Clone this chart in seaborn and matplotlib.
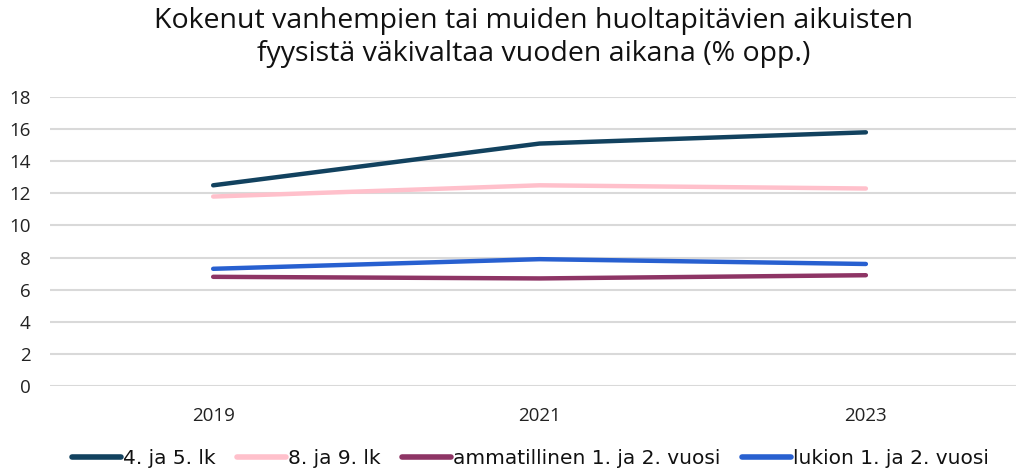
import matplotlib
matplotlib.use("Agg")
import matplotlib.pyplot as plt
import seaborn as sns
import pandas as pd
import numpy as np
from matplotlib.lines import Line2D

years = ["2019", "2021", "2023"]
series_names = ["4. ja 5. lk", "8. ja 9. lk", "ammatillinen 1. ja 2. vuosi", "lukion 1. ja 2. vuosi"]
values_45 = [12.5, 15.1, 15.8]
values_89 = [11.8, 12.5, 12.3]
values_amm = [6.8, 6.7, 6.9]
values_luk = [7.3, 7.9, 7.6]
colors = ["#12425F", "#FFC0CB", "#8E3565", "#2860D0"]
title = "Kokenut vanhempien tai muiden huoltapitävien aikuisten\nfyysistä väkivaltaa vuoden aikana (% opp.)"

sns.set_theme(style="white")
plt.rcParams['font.family'] = ['Open Sans', 'DejaVu Sans']

rows = []
for name, vals in zip(series_names, [values_45, values_89, values_amm, values_luk]):
    for i, (y, v) in enumerate(zip(years, vals)):
        rows.append({"idx": i, "year": y, "value": v, "series": name})
df = pd.DataFrame(rows)

fig = plt.figure(figsize=(10.16, 4.70), dpi=100)
ax = fig.add_axes([50/1016, 84/470, 1 - 50/1016, 289/470])
sns.lineplot(data=df, x="idx", y="value", hue="series", hue_order=series_names,
             palette=colors, linewidth=3.2, ax=ax, legend=False, solid_capstyle="round")

ax.set_xlim(-0.5, 2.46)
ax.set_ylim(0, 18)
ax.set_yticks(np.arange(0, 19, 2))
ax.set_xticks(range(len(years)))
ax.set_xticklabels(years)
ax.tick_params(axis='y', labelsize=13.5, colors="#222222", pad=14, length=0)
ax.tick_params(axis='x', labelsize=13.5, colors="#222222", pad=15, length=0)
ax.grid(axis='y', color="#d9d9d9", linewidth=1.5)
ax.set_axisbelow(True)
for s in ax.spines.values():
    s.set_visible(False)
ax.set_xlabel("")
ax.set_ylabel("")

fig.text(0.525, 0.92, title, ha="center", va="center", fontsize=20.5, color="#111111", linespacing=1.2)

handles = [Line2D([0], [0], color=c, linewidth=4, solid_capstyle="round") for c in colors]
leg = fig.legend(handles, series_names, loc="center", bbox_to_anchor=(0.522, 0.025), ncol=4,
                 frameon=False, handlelength=2.4, handletextpad=0.1, columnspacing=1.1,
                 prop={'family': ['Liberation Sans Narrow', 'DejaVu Sans'], 'size': 14.5})
for t in leg.get_texts():
    t.set_color("#111111")

fig.savefig("out.png", dpi=100)
